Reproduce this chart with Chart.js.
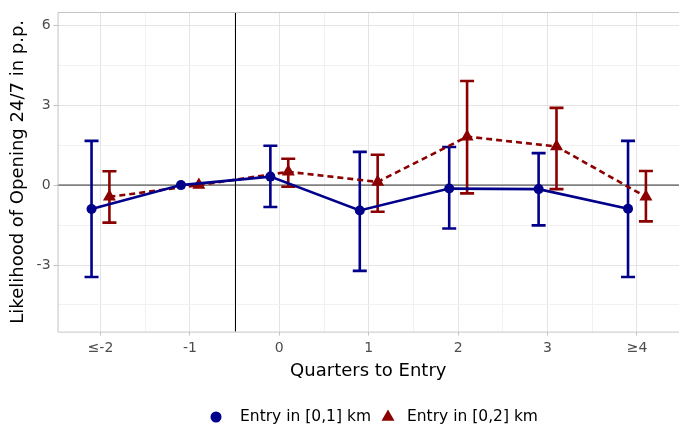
<!DOCTYPE html>
<html><head><meta charset="utf-8">
<script src="https://cdn.jsdelivr.net/npm/chart.js@4"></script>
<style>html,body{margin:0;padding:0;background:#fff}#wrap{width:679px;height:426px}canvas{display:block}</style>
</head><body><div id="wrap"><canvas id="c"></canvas></div>
<script>
const categories = ['≤-2', '-1', '0', '1', '2', '3', '≥4'];
const blueEst  = [-0.90, 0.00, 0.32, -0.95, -0.13, -0.15, -0.89];
const blueLow  = [-3.45, null, -0.82, -3.22, -1.63, -1.51, -3.45];
const blueHigh = [1.66, null, 1.48, 1.25, 1.43, 1.20, 1.66];
const redEst   = [-0.44, 0.00, 0.50, 0.12, 1.82, 1.45, -0.44];
const redLow   = [-1.41, null, -0.06, -1.00, -0.31, -0.15, -1.36];
const redHigh  = [0.52, null, 0.99, 1.14, 3.91, 2.90, 0.53];
const yTicks = [-4.5, -3, -1.5, 0, 1.5, 3, 4.5, 6];
const yTickLabels = ['', '-3', '', '0', '', '3', '', '6'];
const seriesNames = ['Entry in [0,1] km', 'Entry in [0,2] km'];

const BLUE = '#00008B', RED = '#8B0000';
const dodge = 0.1;
const xTicks = [];
for (let i = 0; i <= 12; i++) xTicks.push(i / 2);

function pts(est, off) { return est.map((v, i) => ({x: i + off, y: v})); }

const errorBars = {
  id: 'errorBars',
  beforeDatasetsDraw(chart) {
    const {ctx, chartArea: a, scales: {x, y}} = chart;
    ctx.save();
    ctx.strokeStyle = '#808080'; ctx.lineWidth = 1.6;
    ctx.beginPath(); ctx.moveTo(a.left, y.getPixelForValue(0)); ctx.lineTo(a.right, y.getPixelForValue(0)); ctx.stroke();
    ctx.strokeStyle = '#000'; ctx.lineWidth = 1;
    const xv = Math.round(x.getPixelForValue(1.5)) + 0.5;
    ctx.beginPath(); ctx.moveTo(xv, a.top); ctx.lineTo(xv, a.bottom); ctx.stroke();
    const sets = [[blueLow, blueHigh, -dodge, BLUE], [redLow, redHigh, dodge, RED]];
    sets.forEach(([lo, hi, off, col]) => {
      ctx.strokeStyle = col; ctx.lineWidth = 2.6; ctx.lineCap = 'butt';
      lo.forEach((l, i) => {
        if (l === null) return;
        const px = x.getPixelForValue(i + off);
        const p1 = y.getPixelForValue(l), p2 = y.getPixelForValue(hi[i]);
        ctx.beginPath();
        ctx.moveTo(px, p1); ctx.lineTo(px, p2);
        ctx.moveTo(px - 7, p1); ctx.lineTo(px + 7, p1);
        ctx.moveTo(px - 7, p2); ctx.lineTo(px + 7, p2);
        ctx.stroke();
      });
    });
    ctx.restore();
  },
  afterDraw(chart) {
    const {ctx, chartArea: a} = chart;
    ctx.save();
    ctx.strokeStyle = '#c4c4c4'; ctx.lineWidth = 1;
    ctx.beginPath();
    ctx.moveTo(chart.width + 2, a.top + 0.5); ctx.lineTo(a.left + 0.5, a.top + 0.5);
    ctx.lineTo(a.left + 0.5, a.bottom + 0.5); ctx.lineTo(chart.width + 2, a.bottom + 0.5);
    ctx.stroke();
    // legend
    ctx.font = '15.5px "DejaVu Sans"';
    ctx.textBaseline = 'middle'; ctx.textAlign = 'left';
    const ly = 417;
    const w1 = ctx.measureText(seriesNames[0]).width, w2 = ctx.measureText(seriesNames[1]).width;
    const total = 6 + 24 + w1 + 17 + 19 + w2;
    const center = 374;
    const x0 = center - total / 2 + 6;
    ctx.fillStyle = BLUE; ctx.beginPath(); ctx.arc(x0, ly, 5.5, 0, Math.PI * 2); ctx.fill();
    ctx.fillStyle = '#000'; ctx.fillText(seriesNames[0], x0 + 24, ly);
    const x1 = x0 + 24 + w1 + 17;
    ctx.fillStyle = RED; ctx.strokeStyle = RED;
    Chart.helpers.drawPoint(ctx, {pointStyle: 'triangle', radius: 7.5, borderWidth: 0}, x1, ly);
    ctx.fillStyle = '#000'; ctx.fillText(seriesNames[1], x1 + 19, ly);
    ctx.restore();
  }
};

new Chart(document.getElementById('c'), {
  type: 'line',
  data: {
    datasets: [
      {label: seriesNames[0], data: pts(blueEst, -dodge), borderColor: BLUE, backgroundColor: BLUE,
       borderWidth: 2.6, pointStyle: 'circle', pointRadius: 5, pointBorderWidth: 0, pointHoverRadius: 5, tension: 0},
      {label: seriesNames[1], data: pts(redEst, dodge), borderColor: RED, backgroundColor: RED,
       borderWidth: 2.6, borderDash: [6, 4], pointStyle: 'triangle', pointRadius: 7.5, pointBorderWidth: 0, pointHoverRadius: 7.5, tension: 0}
    ]
  },
  options: {
    responsive: true, maintainAspectRatio: false, animation: false,
    events: [],
    layout: {autoPadding: false, padding: {left: 8, right: 0, top: 12, bottom: 44}},
    plugins: {
      tooltip: {enabled: false},
      legend: {display: false}
    },
    scales: {
      x: {
        type: 'linear', min: -0.48, max: 6.47,
        afterBuildTicks(s) { s.ticks = xTicks.map(v => ({value: v})); },
        afterFit(s) { s.paddingLeft = 0; s.paddingRight = 0; },
        ticks: {
          autoSkip: false, maxRotation: 0, padding: 4, color: '#4d4d4d',
          font: {family: 'DejaVu Sans', size: 14},
          callback(v) { return Number.isInteger(v) ? categories[v] : ''; }
        },
        grid: {
          color: c => Number.isInteger(c.tick && c.tick.value) ? '#e4e4e4' : '#f1f1f1',
          tickColor: c => Number.isInteger(c.tick && c.tick.value) ? '#c4c4c4' : 'rgba(0,0,0,0)',
          tickLength: 4, lineWidth: 1
        },
        border: {display: false},
        title: {display: true, text: 'Quarters to Entry', color: '#000',
                font: {family: 'DejaVu Sans', size: 18}, padding: {top: 0, bottom: 0}}
      },
      y: {
        type: 'linear', min: -5.5, max: 6.5,
        afterBuildTicks(s) { s.ticks = yTicks.map(v => ({value: v})); },
        ticks: {
          autoSkip: false, padding: 3, color: '#4d4d4d',
          font: {family: 'DejaVu Sans', size: 14},
          callback(v) { const i = yTicks.indexOf(v); return i >= 0 ? yTickLabels[i] : ''; }
        },
        grid: {
          color: c => (c.tick && c.tick.value % 3 === 0) ? '#e4e4e4' : '#f1f1f1',
          tickColor: c => (c.tick && c.tick.value % 3 === 0) ? '#c4c4c4' : 'rgba(0,0,0,0)',
          tickLength: 4, lineWidth: 1
        },
        border: {display: false},
        title: {display: true, text: 'Likelihood of Opening 24/7 in p.p.', color: '#000',
                font: {family: 'DejaVu Sans', size: 18}, padding: {top: 0, bottom: 4}}
      }
    }
  },
  plugins: [errorBars]
});
</script>
</body></html>
